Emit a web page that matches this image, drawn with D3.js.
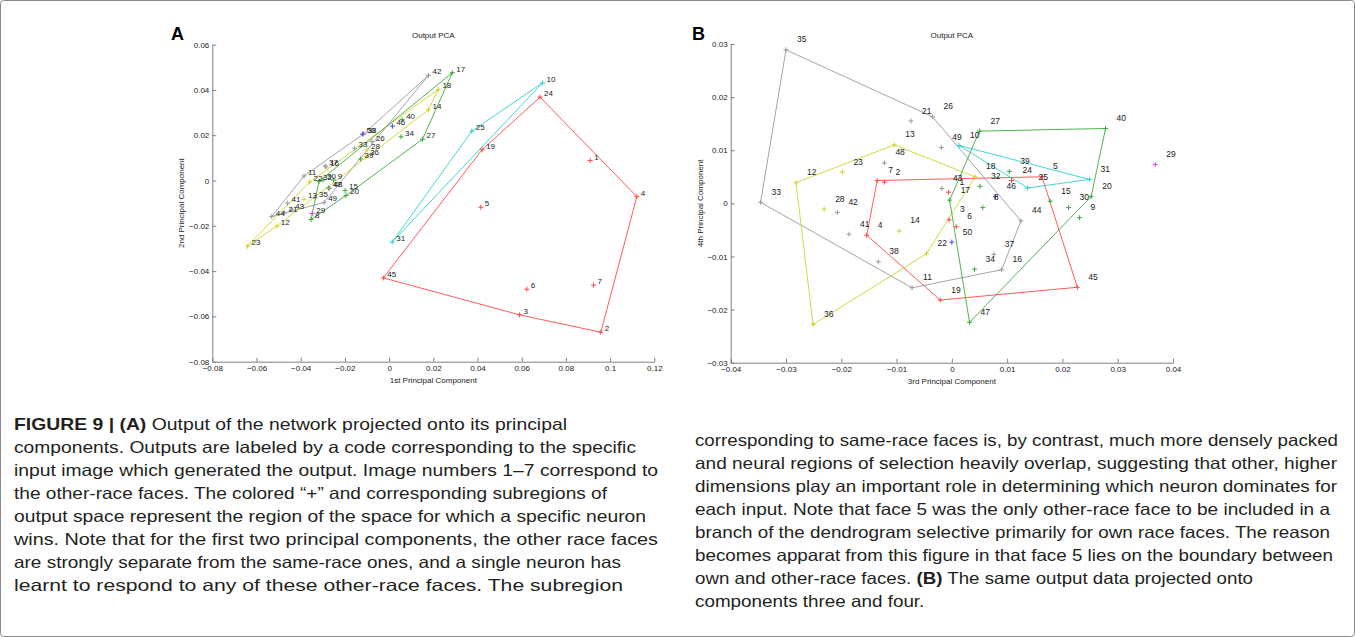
<!DOCTYPE html>
<html>
<head>
<meta charset="utf-8">
<script src="https://cdn.jsdelivr.net/npm/d3@7"></script>
<style>
  body { margin: 0; background: #fff; }
  svg { display: block; }
</style>
</head>
<body>
<script>
// face ids 1..50, winning neuron (colour code) for each face
const faceIds = d3.range(1, 51);
const neuron = ["r","r","r","r","r","r","r","g","g","c",
                "k","y","y","y","g","k","g","y","r","g",
                "k","y","y","r","c","k","g","y","m","g",
                "c","g","k","g","k","y","k","k","g","g",
                "k","k","k","k","r","b","g","k","k","b"];

// panel A: 1st and 2nd principal components
const pc1 = [0.0910, 0.0958, 0.0590, 0.1121, 0.0415, 0.0623, 0.0925, -0.0353, -0.0251, 0.0694,
             -0.0385, -0.0508, -0.0385, 0.0178, -0.0199, -0.0285, 0.0286, 0.0223, 0.0421, -0.0195,
             -0.0473, -0.0360, -0.0641, 0.0683, 0.0374, -0.0078, 0.0151, -0.0100, -0.0348, -0.0299,
             0.0014, -0.0317, -0.0156, 0.0054, -0.0335, -0.0104, -0.0290, -0.0115, -0.0129, 0.0059,
             -0.0460, 0.0178, -0.0443, -0.0531, -0.0026, 0.0015, -0.0274, -0.0269, -0.0294, -0.0120];
const pc2 = [0.0088, -0.0670, -0.0593, -0.0071, -0.0118, -0.0480, -0.0462, -0.0172, 0.0002, 0.0431,
             0.0020, -0.0201, -0.0083, 0.0312, -0.0044, 0.0060, 0.0476, 0.0402, 0.0136, -0.0066,
             -0.0143, -0.0007, -0.0290, 0.0368, 0.0218, 0.0172, 0.0182, 0.0135, -0.0146, 0.0002,
             -0.0272, -0.0004, 0.0143, 0.0193, -0.0077, 0.0106, 0.0064, 0.0206, 0.0095, 0.0269,
             -0.0100, 0.0464, -0.0130, -0.0159, -0.0430, 0.0240, -0.0033, -0.0035, -0.0097, 0.0205];

// panel B: 3rd and 4th principal components
const pc3 = [-0.0006, -0.0122, -0.0005, -0.0154, 0.0163, 0.0008, -0.0135, 0.0056, 0.0231, 0.0013,
             -0.0072, -0.0282, -0.0104, -0.0095, 0.0178, 0.0090, -0.0004, 0.0042, -0.0021, 0.0252,
             -0.0074, -0.0046, -0.0198, 0.0108, 0.0137, -0.0035, 0.0050, -0.0231, 0.0368, 0.0211,
             0.0249, 0.0051, -0.0346, 0.0041, -0.0300, -0.0251, 0.0076, -0.0133, 0.0104, 0.0278,
             -0.0186, -0.0207, -0.0018, 0.0125, 0.0227, 0.0079, 0.0032, -0.0122, -0.0019, 0.0000];
const pc4 = [0.0021, 0.0040, -0.0031, -0.0060, 0.0050, -0.0044, 0.0043, -0.0008, -0.0027, 0.0109,
             -0.0159, 0.0039, 0.0110, -0.0052, 0.0004, -0.0125, 0.0006, 0.0050, -0.0182, 0.0013,
             0.0155, -0.0095, 0.0059, 0.0043, 0.0029, 0.0163, 0.0136, -0.0011, 0.0073, -0.0008,
             0.0045, 0.0032, 0.0002, -0.0124, 0.0289, -0.0228, -0.0096, -0.0110, 0.0060, 0.0141,
             -0.0058, -0.0017, 0.0028, -0.0033, -0.0158, 0.0013, -0.0224, 0.0076, 0.0105, -0.0073];

// outlines of each neuron's subregion (face ids, in drawing order)
const regionsA = [["k", [42, 38, 11, 44, 49]],
                  ["y", [23, 22, 18, 14, 12]],
                  ["g", [17, 27, 20, 8, 32]],
                  ["c", [31, 25, 10]],
                  ["r", [45, 19, 24, 4, 2, 3]]];
const regionsB = [["k", [35, 26, 44, 16, 11, 33]],
                  ["y", [12, 13, 18, 22, 36]],
                  ["r", [7, 5, 45, 19, 4]],
                  ["c", [10, 25, 31]],
                  ["g", [27, 40, 20, 47, 17]]];

const ticksA_x = [-0.08, -0.06, -0.04, -0.02, 0, 0.02, 0.04, 0.06, 0.08, 0.1, 0.12];
const ticksA_y = [-0.08, -0.06, -0.04, -0.02, 0, 0.02, 0.04, 0.06];
const ticksB_x = [-0.04, -0.03, -0.02, -0.01, 0, 0.01, 0.02, 0.03, 0.04];
const ticksB_y = [-0.03, -0.02, -0.01, 0, 0.01, 0.02, 0.03];

const captionLeft = [
  "**FIGURE 9 | (A)** Output of the network projected onto its principal",
  "components. Outputs are labeled by a code corresponding to the specific",
  "input image which generated the output. Image numbers 1–7 correspond to",
  "the other-race faces. The colored “+” and corresponding subregions of",
  "output space represent the region of the space for which a specific neuron",
  "wins. Note that for the first two principal components, the other race faces",
  "are strongly separate from the same-race ones, and a single neuron has",
  "learnt to respond to any of these other-race faces. The subregion"
];
const captionRight = [
  "corresponding to same-race faces is, by contrast, much more densely packed",
  "and neural regions of selection heavily overlap, suggesting that other, higher",
  "dimensions play an important role in determining which neuron dominates for",
  "each input. Note that face 5 was the only other-race face to be included in a",
  "branch of the dendrogram selective primarily for own race faces. The reason",
  "becomes apparat from this figure in that face 5 lies on the boundary between",
  "own and other-race faces. **(B)** The same output data projected onto",
  "components three and four."
];
// printed width of every caption line, px (null: keep the column's average squeeze)
const captionLeftWidths = [553, 622, 644, 593, 632, 644, 607, 609];
const captionRightWidths = [643, 642, 642, 635, 635, 638, 558, null];

const W = 1355, H = 637;
const FONT = "'Liberation Sans', Arial, Helvetica, sans-serif";

const svg = d3.select("body").append("svg")
    .attr("width", W)
    .attr("height", H);

svg.append("rect")
    .attr("x", 0.5).attr("y", 0.5)
    .attr("width", W - 1).attr("height", H - 1)
    .attr("rx", 3)
    .attr("fill", "#fff")
    .attr("stroke", "#8a8a8a");

const color = d3.scaleOrdinal()
    .domain(["r", "c", "g", "y", "k", "m", "b"])
    .range(["#ff4848", "#2ed0d0", "#3daa3d", "#d2d22a", "#9a9a9a", "#dd3cdd", "#4646ff"]);

const fmt = d3.format("~g");

function drawPanel(o) {
    const x = d3.scaleLinear().domain(o.xDomain).range(o.xRange);
    const y = d3.scaleLinear().domain(o.yDomain).range(o.yRange);
    const g = svg.append("g");

    const xAxis = g.append("g")
        .attr("transform", "translate(0," + o.yRange[0] + ")")
        .call(d3.axisBottom(x).tickValues(o.xTicks).tickFormat(fmt)
            .tickSizeInner(-4).tickSizeOuter(0).tickPadding(4));
    const yAxis = g.append("g")
        .attr("transform", "translate(" + o.xRange[0] + ",0)")
        .call(d3.axisLeft(y).tickValues(o.yTicks).tickFormat(fmt)
            .tickSizeInner(-4).tickSizeOuter(0).tickPadding(3));
    [xAxis, yAxis].forEach(a => {
        a.attr("font-size", 8).attr("font-family", FONT);
        a.selectAll(".domain, .tick line").attr("stroke", "#808080");
        a.selectAll("text").attr("fill", "#222");
    });

    // panel letter, title, axis labels
    g.append("text")
        .attr("x", o.letterX).attr("y", 40)
        .attr("font-family", FONT).attr("font-size", 18).attr("font-weight", "bold")
        .text(o.letter);
    const midX = (o.xRange[0] + o.xRange[1]) / 2;
    g.append("text")
        .attr("x", midX).attr("y", 38)
        .attr("text-anchor", "middle")
        .attr("font-family", FONT).attr("font-size", 8).attr("fill", "#222")
        .text("Output PCA");
    g.append("text")
        .attr("x", midX).attr("y", o.yRange[0] + 21)
        .attr("text-anchor", "middle")
        .attr("font-family", FONT).attr("font-size", 8).attr("fill", "#222")
        .text(o.xLabel);
    const midY = (o.yRange[0] + o.yRange[1]) / 2;
    g.append("text")
        .attr("transform", "translate(" + (o.xRange[0] - 28) + "," + midY + ") rotate(-90)")
        .attr("text-anchor", "middle")
        .attr("font-family", FONT).attr("font-size", 8).attr("fill", "#222")
        .text(o.yLabel);

    // subregion outlines
    const line = d3.line()
        .x(id => x(o.xs[id - 1]))
        .y(id => y(o.ys[id - 1]));
    g.selectAll(".region")
        .data(o.regions)
        .enter()
        .append("path")
        .attr("class", "region")
        .attr("fill", "none")
        .attr("stroke", d => color(d[0]))
        .attr("stroke-width", 0.9)
        .attr("d", d => line(d[1]) + "Z");

    // "+" markers
    g.selectAll(".pt")
        .data(faceIds)
        .enter()
        .append("path")
        .attr("class", "pt")
        .attr("transform", id => "translate(" + x(o.xs[id - 1]) + "," + y(o.ys[id - 1]) + ")")
        .attr("d", "M-2.5,0H2.5M0,-2.5V2.5")
        .attr("stroke", id => color(neuron[id - 1]))
        .attr("stroke-width", 1);

    // face numbers
    g.selectAll(".lbl")
        .data(faceIds)
        .enter()
        .append("text")
        .attr("class", "lbl")
        .attr("x", id => x(o.xs[id - 1]) + o.labelDx)
        .attr("y", id => y(o.ys[id - 1]) + o.labelDy)
        .attr("font-family", FONT)
        .attr("font-size", o.labelSize)
        .attr("fill", "#1a1a1a")
        .text(id => id);
}

drawPanel({
    letter: "A", letterX: 171,
    xs: pc1, ys: pc2, regions: regionsA,
    xDomain: [-0.08, 0.12], xRange: [212.3, 654.3],
    yDomain: [-0.08, 0.06], yRange: [361.7, 44.6],
    xTicks: ticksA_x, yTicks: ticksA_y,
    xLabel: "1st Principal Component", yLabel: "2nd Principal Component",
    labelDx: 4, labelDy: -1, labelSize: 8
});

drawPanel({
    letter: "B", letterX: 692,
    xs: pc3, ys: pc4, regions: regionsB,
    xDomain: [-0.04, 0.04], xRange: [730.7, 1173],
    yDomain: [-0.03, 0.03], yRange: [362.7, 44],
    xTicks: ticksB_x, yTicks: ticksB_y,
    xLabel: "3rd Principal Component", yLabel: "4th Principal Component",
    labelDx: 11, labelDy: -7.5, labelSize: 8.5
});

// caption, two columns
const cap = svg.append("g")
    .attr("font-family", FONT)
    .attr("font-size", 16.5)
    .attr("fill", "#231f20");

function captionColumn(x, y0, lines, widths) {
    const texts = lines.map((str, i) => {
        const t = cap.append("text").attr("x", x).attr("y", y0 + i * 23);
        str.split("**").forEach((part, k) => {
            if (part.length) {
                t.append("tspan")
                    .attr("font-weight", k % 2 ? "bold" : null)
                    .text(part);
            }
        });
        return t;
    });
    const natural = texts.map(t => t.node().getComputedTextLength());
    const ratio = d3.mean(widths.map((w, i) => w == null ? null : w / natural[i]).filter(v => v != null));
    texts.forEach((t, i) => {
        t.attr("textLength", widths[i] == null ? natural[i] * ratio : widths[i])
         .attr("lengthAdjust", "spacingAndGlyphs");
    });
}

captionColumn(14, 430, captionLeft, captionLeftWidths);
captionColumn(695, 446, captionRight, captionRightWidths);
</script>
</body>
</html>
